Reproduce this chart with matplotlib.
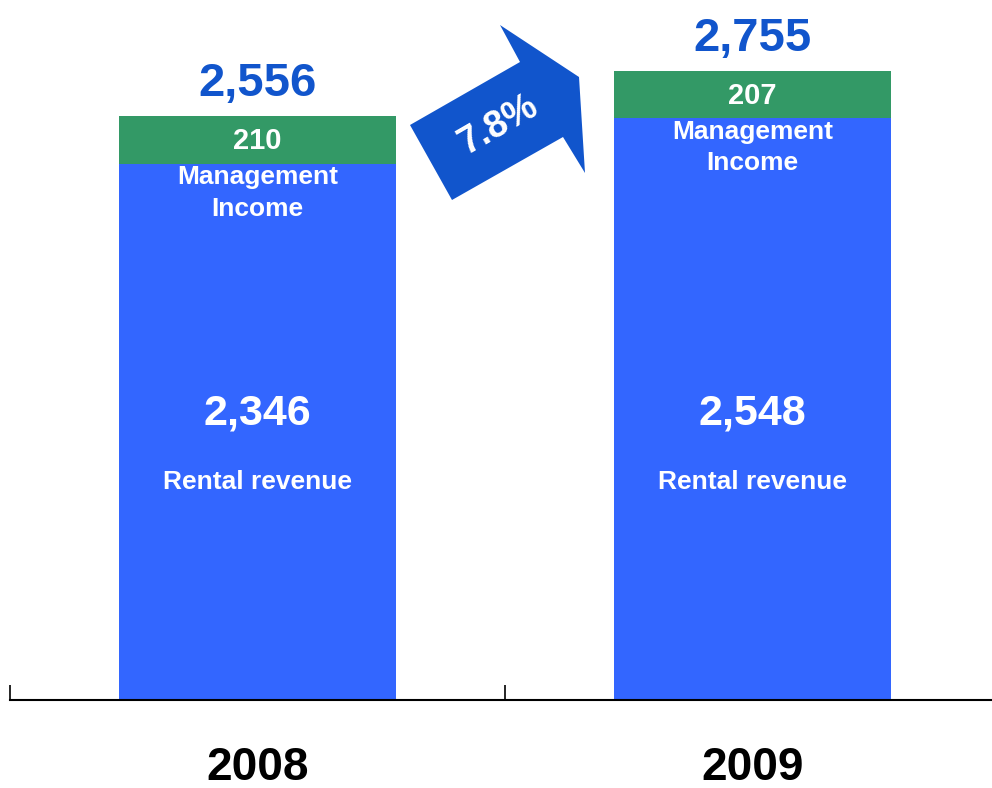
import numpy as np
import matplotlib.pyplot as plt
from matplotlib.patches import Polygon

plt.rcParams['font.family'] = ['Liberation Sans', 'DejaVu Sans']

# data
years = ['2008', '2009']
rental = [2346, 2548]
mgmt = [210, 207]
totals = [2556, 2755]
growth_label = '7.8%'

blue = '#3366FF'
green = '#339966'
dark_blue = '#1155CC'

fig = plt.figure(figsize=(9.92, 7.88), dpi=100)
ax = fig.add_axes([10 / 992, 88 / 788, 982 / 992, 700 / 788])

x = np.arange(len(years))
ax.bar(x, rental, width=0.558, color=blue, zorder=2)
ax.bar(x, mgmt, bottom=rental, width=0.558, color=green, zorder=2)

# labels on the bars
for i in range(len(years)):
    ax.annotate(f'{totals[i]:,}', (x[i], totals[i]), xytext=(0, 23), textcoords='offset points',
                ha='center', va='center', fontsize=34, fontweight='bold', color=dark_blue)
    ax.annotate(f'{mgmt[i]:,}', (x[i], totals[i]), xytext=(0, -18), textcoords='offset points',
                ha='center', va='center', fontsize=21, fontweight='bold', color='white')
    ax.annotate('Management\nIncome', (x[i], totals[i]), xytext=(0, -55.5), textcoords='offset points',
                ha='center', va='center', fontsize=19, fontweight='bold', color='white',
                linespacing=1.4)
    ax.annotate(f'{rental[i]:,}', (x[i], 0), xytext=(0, 206), textcoords='offset points',
                ha='center', va='center', fontsize=31, fontweight='bold', color='white')
    ax.annotate('Rental revenue', (x[i], 0), xytext=(0, 157), textcoords='offset points',
                ha='center', va='center', fontsize=19, fontweight='bold', color='white')

# growth arrow (figure pixel coords, y from top)
pts = [(410, 125), (452, 200), (563, 137), (585, 173), (579, 77), (500, 25), (520, 62)]
pts = [(px / 992, 1 - py / 788) for px, py in pts]
fig.patches.append(Polygon(pts, closed=True, transform=fig.transFigure,
                           facecolor=dark_blue, edgecolor='none', zorder=3))
fig.text(498 / 992, 1 - 125 / 788, growth_label, rotation=30, ha='center', va='center',
         fontsize=27, fontweight='bold', color='white', rotation_mode='anchor', zorder=4)

# axis styling
for s in ['top', 'right', 'left']:
    ax.spines[s].set_visible(False)
ax.spines['bottom'].set_linewidth(1.5)
ax.spines['bottom'].set_zorder(3)
ax.set_yticks([])
ax.set_xticks(x, years)
ax.tick_params(axis='x', length=0, pad=33, labelsize=33)
for lab in ax.get_xticklabels():
    lab.set_fontweight('bold')
ax.set_xticks([-0.5, 0.5, 1.5], minor=True)
ax.tick_params(axis='x', which='minor', direction='in', length=11, width=1.2)

ax.set_xlim(-0.5, -0.5 + 982 / 495)
ax.set_ylim(0, 3064)

fig.savefig('out.png', dpi=100)
